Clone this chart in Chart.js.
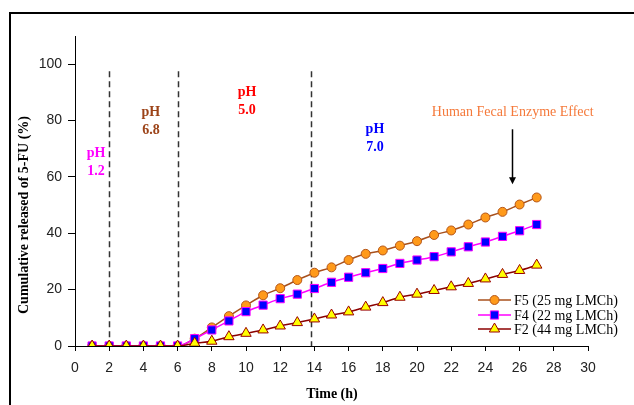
<!DOCTYPE html>
<html>
<head>
<meta charset="utf-8">
<script src="https://cdn.jsdelivr.net/npm/chart.js@4.4.1/dist/chart.umd.min.js"></script>
<style>
  html, body { margin: 0; padding: 0; background: #fff; overflow: hidden; }
  #wrap { position: relative; width: 634px; height: 405px; overflow: hidden; }
  #frame { position: absolute; left: 9px; top: 12px; width: 700px; height: 500px; border: 2px solid #000; }
  #chart { position: absolute; left: 0; top: 0; }
</style>
</head>
<body>
<div id="wrap">
  <div id="frame"></div>
  <canvas id="chart" width="634" height="405"></canvas>
</div>
<script>
// time points (h)
const hours = [1, 2, 3, 4, 5, 6, 7, 8, 9, 10, 11, 12, 13, 14, 15, 16, 17, 18, 19, 20, 21, 22, 23, 24, 25, 26, 27];

// cumulative 5-FU release (%)
const f5Release = [0, 0, 0, 0, 0, 0, 2.6, 6.6, 10.6, 14.4, 18.0, 20.5, 23.4, 26.0, 27.9, 30.5, 32.7, 33.9, 35.6, 37.2, 39.4, 41.0, 43.1, 45.6, 47.6, 50.2, 52.7];
const f4Release = [0, 0, 0, 0, 0, 0, 2.6, 5.7, 8.9, 12.2, 14.5, 16.8, 18.4, 20.4, 22.6, 24.4, 26.0, 27.5, 29.3, 30.5, 31.7, 33.4, 35.2, 36.9, 38.9, 40.9, 43.1];
const f2Release = [0, 0, 0, 0, 0, 0, 1.0, 1.7, 3.3, 4.5, 5.7, 7.1, 8.3, 9.6, 11.0, 12.1, 13.8, 15.4, 17.3, 18.4, 19.7, 21.0, 22.2, 23.8, 25.4, 26.8, 28.7];

const seriesLabels = ['F5 (25 mg LMCh)', 'F4 (22 mg LMCh)', 'F2 (44 mg LMCh)'];

// pH phase change times (h) and pH of each phase
const phaseBounds = [2, 6, 13.8];
const phasePH = ['1.2', '6.8', '5.0', '7.0'];
const enzymeLabel = 'Human Fecal Enzyme Effect';

const xTicks = [0, 2, 4, 6, 8, 10, 12, 14, 16, 18, 20, 22, 24, 26, 28, 30];
const yTicks = [0, 20, 40, 60, 80, 100];

const SERIF = '"Liberation Serif", "Times New Roman", serif';
const SANS = '"Liberation Sans", Arial, sans-serif';

const toPoints = values => hours.map((h, i) => ({ x: h, y: values[i] }));

const seriesStyles = [
  { line: '#a8501c', fill: '#ff9a1a', border: '#b4561a', pointStyle: 'circle', radius: 4.5 },
  { line: '#ff00ff', fill: '#0000ff', border: '#ff00ff', pointStyle: 'rect', radius: 5.8 },
  { line: '#8b0000', fill: '#ffff00', border: '#990000', pointStyle: 'triangle', radius: 6 }
];

const makeDataset = (label, values, style, order) => ({
  label,
  data: toPoints(values),
  order,
  borderColor: style.line,
  borderWidth: 1.5,
  pointStyle: style.pointStyle,
  pointRadius: style.radius,
  pointBackgroundColor: style.fill,
  pointBorderColor: style.border,
  pointBorderWidth: 1,
  cubicInterpolationMode: 'monotone',
  tension: 0.4
});

// dashed phase dividers, pH labels, enzyme arrow, titles and legend
const annotationsPlugin = {
  id: 'annotations',

  beforeDatasetsDraw (chart) {
    const { ctx, scales: { x, y } } = chart;
    ctx.save();
    ctx.strokeStyle = '#333';
    ctx.lineWidth = 1.5;
    ctx.setLineDash([6, 4]);
    phaseBounds.forEach(b => {
      const px = Math.round(x.getPixelForValue(b)) + 0.5;
      ctx.beginPath();
      ctx.moveTo(px, y.getPixelForValue(97.5));
      ctx.lineTo(px, y.getPixelForValue(0));
      ctx.stroke();
    });
    ctx.restore();
  },

  afterDatasetsDraw (chart) {
    const { ctx, chartArea, scales: { x, y } } = chart;
    ctx.save();

    // pH labels
    const phaseSpots = [
      { x: 1.23, y: 68.4, color: '#ff00ff' },
      { x: 4.44, y: 83.0, color: '#9c4318' },
      { x: 10.06, y: 90.1, color: '#ff0000' },
      { x: 17.54, y: 77.0, color: '#0000ff' }
    ];
    ctx.font = 'bold 14px ' + SERIF;
    ctx.textAlign = 'center';
    ctx.textBaseline = 'middle';
    phaseSpots.forEach((s, i) => {
      const px = x.getPixelForValue(s.x);
      const py = y.getPixelForValue(s.y);
      ctx.fillStyle = s.color;
      ctx.fillText('pH', px, py);
      ctx.fillText(phasePH[i], px, py + 18);
    });

    // enzyme effect label + arrow
    ctx.font = '14px ' + SERIF;
    ctx.fillStyle = '#f5793a';
    ctx.fillText(enzymeLabel, x.getPixelForValue(25.6), y.getPixelForValue(83.0));

    const ax = Math.round(x.getPixelForValue(25.55)) + 0.5;
    const top = y.getPixelForValue(76.9);
    const tip = y.getPixelForValue(57.4);
    ctx.strokeStyle = '#000';
    ctx.lineWidth = 1.5;
    ctx.beginPath();
    ctx.moveTo(ax, top);
    ctx.lineTo(ax, tip - 5);
    ctx.stroke();
    ctx.fillStyle = '#000';
    ctx.beginPath();
    ctx.moveTo(ax - 3.5, tip - 7);
    ctx.lineTo(ax + 3.5, tip - 7);
    ctx.lineTo(ax, tip);
    ctx.closePath();
    ctx.fill();

    // axis titles
    ctx.fillStyle = '#000';
    ctx.font = 'bold 14px ' + SERIF;
    ctx.fillText('Time (h)', 332, 394);
    ctx.save();
    ctx.translate(24, 215);
    ctx.rotate(-Math.PI / 2);
    ctx.fillText('Cumulative released of 5-FU (%)', 0, 0);
    ctx.restore();

    // legend inside plot, bottom right
    ctx.font = '14px ' + SERIF;
    ctx.textAlign = 'left';
    const lx0 = chartArea.right - 110;
    const lx1 = chartArea.right - 77;
    [46, 31, 17].forEach((dy, i) => {
      const st = seriesStyles[i];
      const ly = chartArea.bottom - dy;
      ctx.strokeStyle = st.line;
      ctx.lineWidth = 1.5;
      ctx.beginPath();
      ctx.moveTo(lx0, ly);
      ctx.lineTo(lx1, ly);
      ctx.stroke();
      ctx.fillStyle = st.fill;
      ctx.strokeStyle = st.border;
      ctx.lineWidth = 1;
      Chart.helpers.drawPoint(ctx, { pointStyle: st.pointStyle, radius: st.radius, borderWidth: 1 }, (lx0 + lx1) / 2, ly);
      ctx.fillStyle = '#000';
      ctx.fillText(seriesLabels[i], lx1 + 3, ly + 1);
    });

    ctx.restore();
  }
};

new Chart(document.getElementById('chart'), {
  type: 'line',
  data: {
    datasets: [
      makeDataset(seriesLabels[0], f5Release, seriesStyles[0], 3),
      makeDataset(seriesLabels[1], f4Release, seriesStyles[1], 2),
      makeDataset(seriesLabels[2], f2Release, seriesStyles[2], 1)
    ]
  },
  options: {
    responsive: false,
    animation: false,
    events: [],
    layout: { padding: { left: 0, top: 36, right: 46, bottom: 0 } },
    plugins: {
      legend: { display: false },
      tooltip: { enabled: false }
    },
    scales: {
      x: {
        type: 'linear',
        min: 0,
        max: 30,
        afterBuildTicks: scale => { scale.ticks = xTicks.map(v => ({ value: v })); },
        afterFit: scale => { scale.height = 59; },
        border: { color: '#000', width: 1 },
        grid: { drawOnChartArea: false, color: '#000', tickLength: 5 },
        ticks: { color: '#222', padding: 9, font: { family: SANS, size: 14 }, maxRotation: 0 }
      },
      y: {
        type: 'linear',
        min: 0,
        max: 110,
        afterBuildTicks: scale => { scale.ticks = yTicks.map(v => ({ value: v })); },
        afterFit: scale => { scale.width = 75; },
        border: { color: '#000', width: 1 },
        grid: { drawOnChartArea: false, color: '#000', tickLength: 7 },
        ticks: { color: '#222', padding: 6, font: { family: SANS, size: 14 } }
      }
    }
  },
  plugins: [annotationsPlugin]
});
</script>
</body>
</html>
